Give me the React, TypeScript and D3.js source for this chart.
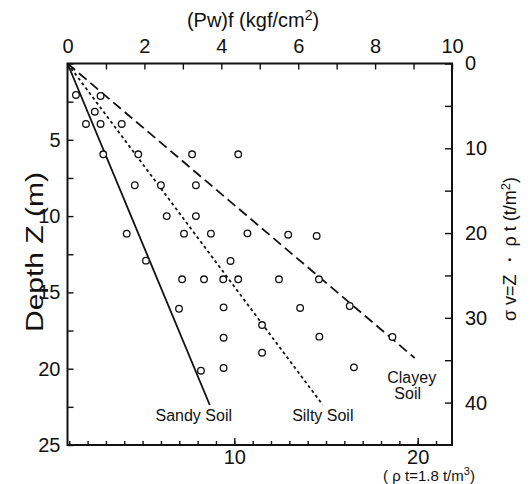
import * as d3 from "d3"
import { useEffect, useRef } from "react"

// observed points: (Pw)f in kgf/cm2 and depth Z in m
const obsPw = [0.22, 0.86, 0.71, 0.48, 0.86, 1.41, 0.93, 1.84, 3.24, 4.44, 1.75, 2.43, 3.34, 2.58, 3.34,
    1.54, 3.03, 3.73, 4.68, 5.74, 6.48, 2.04, 4.24, 2.98, 3.55, 4.05, 4.44, 5.5, 6.54, 2.9, 4.06, 6.05,
    7.34, 5.06, 4.06, 6.55, 8.45, 5.06, 3.47, 4.06, 7.45]
const obsZ = [2.06, 2.13, 3.16, 3.96, 3.96, 3.96, 5.95, 5.95, 5.95, 5.95, 7.98, 7.98, 7.98, 10.0, 10.0,
    11.15, 11.15, 11.15, 11.13, 11.22, 11.3, 12.92, 12.94, 14.14, 14.14, 14.14, 14.14, 14.14, 14.14, 16.07, 15.98, 16.02,
    15.89, 17.14, 17.97, 17.9, 17.92, 18.95, 20.13, 19.95, 19.91]

// trend lines from the origin
const soilNames = ["Sandy Soil", "Silty Soil", "Clayey Soil"]
const soilEndPw = [3.7, 6.64, 9.03]
const soilEndZ = [22.38, 22.38, 19.3]

const topTicks = [0, 2, 4, 6, 8, 10]
const depthTicks = [0, 5, 10, 15, 20, 25]
const sigmaTicks = [0, 10, 20, 30, 40]
const bottomTicks = [10, 20]

export default function App() {
    const svgRef = useRef<SVGSVGElement>(null)

    useEffect(() => {
        const width = 530
        const height = 484
        const left = 67.5
        const right = 452
        const top = 63.5
        const bottom = 445
        const font = "'Liberation Sans', Arial, Helvetica, sans-serif"

        const x = d3.scaleLinear([0, 10], [left, right])
        const y = d3.scaleLinear([0, 25], [top, bottom])
        const ySigma = d3.scaleLinear([0, 45], [top, bottom])
        const xBottom = d3.scaleLinear([0.905, 21.87], [left, right])

        if (svgRef.current !== null) {
            svgRef.current.innerHTML = ""
        }

        const svg = d3.select(svgRef.current)
            .attr("width", width)
            .attr("height", height)
            .attr("viewBox", [0, 0, width, height])
            .style("position", "absolute")
            .style("left", 0)
            .style("top", 0)
            .style("background", "#fff")
            .style("font-family", font)

        const styleAxis = (g: any, size: number) => {
            g.select(".domain").remove()
            g.selectAll("line").attr("stroke", "#111").attr("stroke-width", 1.4)
            g.selectAll("text").attr("font-family", font).attr("font-size", size).attr("fill", "#111")
        }

        // top axis
        svg.append("g")
            .attr("transform", `translate(0,${top})`)
            .call(d3.axisTop(x).tickValues(d3.range(0, 11, 1)).tickSize(-6).tickFormat(() => ""))
            .call(g => styleAxis(g, 20))
        svg.append("g")
            .attr("transform", `translate(0,${top})`)
            .call(d3.axisTop(x).tickValues(topTicks).tickSize(0).tickPadding(11).tickFormat(d3.format("d")))
            .call(g => styleAxis(g, 20))

        // left axis
        svg.append("g")
            .attr("transform", `translate(${left},0)`)
            .call(d3.axisLeft(y).tickValues(d3.range(0, 25.1, 2.5)).tickSize(-6).tickFormat(() => ""))
            .call(g => styleAxis(g, 20))
        svg.append("g")
            .attr("transform", `translate(${left},0)`)
            .call(d3.axisLeft(y).tickValues(depthTicks.slice(1)).tickSize(0).tickPadding(7).tickFormat(d3.format("d")))
            .call(g => styleAxis(g, 20))

        // right axis
        svg.append("g")
            .attr("transform", `translate(${right},0)`)
            .call(d3.axisRight(ySigma).tickValues(d3.range(0, 45, 5)).tickSize(-7).tickFormat(() => ""))
            .call(g => styleAxis(g, 20))
        svg.append("g")
            .attr("transform", `translate(${right},0)`)
            .call(d3.axisRight(ySigma).tickValues(sigmaTicks).tickSize(0).tickPadding(13).tickFormat(d3.format("d")))
            .call(g => styleAxis(g, 20))

        // bottom axis
        svg.append("g")
            .attr("transform", `translate(0,${bottom})`)
            .call(d3.axisBottom(xBottom).tickValues(d3.range(1, 22, 1)).tickSize(-4).tickFormat(() => ""))
            .call(g => styleAxis(g, 20))
        svg.append("g")
            .attr("transform", `translate(0,${bottom})`)
            .call(d3.axisBottom(xBottom).tickValues(bottomTicks).tickSize(-7).tickPadding(5).tickFormat(d3.format("d")))
            .call(g => styleAxis(g, 20))

        // frame
        svg.append("rect")
            .attr("x", left).attr("y", top)
            .attr("width", right - left).attr("height", bottom - top)
            .attr("fill", "none").attr("stroke", "#111").attr("stroke-width", 2)

        // axis titles
        const title = svg.append("text")
            .attr("x", 253).attr("y", 27)
            .attr("text-anchor", "middle").attr("font-size", 20).attr("fill", "#111")
        title.append("tspan").text("(Pw)f (kgf/cm")
        title.append("tspan").attr("dy", -7).attr("font-size", 14).text("2")
        title.append("tspan").attr("dy", 7).text(")")

        svg.append("text")
            .attr("transform", "translate(43,252) rotate(-90)")
            .attr("text-anchor", "middle").attr("font-size", 23).attr("fill", "#111")
            .attr("textLength", 160).attr("lengthAdjust", "spacingAndGlyphs")
            .text("Depth Z (m)")

        const rt = svg.append("text")
            .attr("transform", "translate(516,249) rotate(-90)")
            .attr("text-anchor", "middle").attr("font-size", 18).attr("fill", "#111")
        rt.append("tspan").text("σ v=Z ・ ρ t (t/m")
        rt.append("tspan").attr("dy", -6).attr("font-size", 13).text("2")
        rt.append("tspan").attr("dy", 6).text(")")

        const bt = svg.append("text")
            .attr("x", 429).attr("y", 481)
            .attr("text-anchor", "middle").attr("font-size", 15).attr("fill", "#111")
        bt.append("tspan").text("( ρ t=1.8 t/m")
        bt.append("tspan").attr("dy", -6).attr("font-size", 11).text("3")
        bt.append("tspan").attr("dy", 6).text(")")

        // trend lines
        const dashes = [null, "3,3", "10,5"]
        soilNames.forEach((name, i) => {
            svg.append("line")
                .attr("x1", x(0)).attr("y1", y(0))
                .attr("x2", x(soilEndPw[i])).attr("y2", y(soilEndZ[i]))
                .attr("stroke", "#111").attr("stroke-width", 1.8)
                .attr("stroke-dasharray", dashes[i])
        })

        // soil labels
        const labelFont = 16
        svg.append("text")
            .attr("x", x(soilEndPw[0]) - 16).attr("y", y(soilEndZ[0]) + 16)
            .attr("text-anchor", "middle").attr("font-size", labelFont).attr("fill", "#111")
            .text(soilNames[0])
        svg.append("text")
            .attr("x", x(soilEndPw[1])).attr("y", y(soilEndZ[1]) + 16)
            .attr("text-anchor", "middle").attr("font-size", labelFont).attr("fill", "#111")
            .text(soilNames[1])
        const [clay, soil] = soilNames[2].split(" ")
        svg.append("text")
            .attr("x", x(soilEndPw[2]) - 3).attr("y", y(soilEndZ[2]) + 25)
            .attr("text-anchor", "middle").attr("font-size", labelFont).attr("fill", "#111")
            .text(clay)
        svg.append("text")
            .attr("x", x(soilEndPw[2]) - 7).attr("y", y(soilEndZ[2]) + 41)
            .attr("text-anchor", "middle").attr("font-size", labelFont).attr("fill", "#111")
            .text(soil)

        // observations
        svg.append("g")
            .selectAll()
            .data(obsPw.map((p, i) => [p, obsZ[i]]))
            .join("circle")
                .attr("cx", d => x(d[0]))
                .attr("cy", d => y(d[1]))
                .attr("r", 3.3)
                .attr("fill", "#fff")
                .attr("stroke", "#111")
                .attr("stroke-width", 1.3)
    }, [])

    return <>
        <svg ref={svgRef}></svg>
    </>
}
